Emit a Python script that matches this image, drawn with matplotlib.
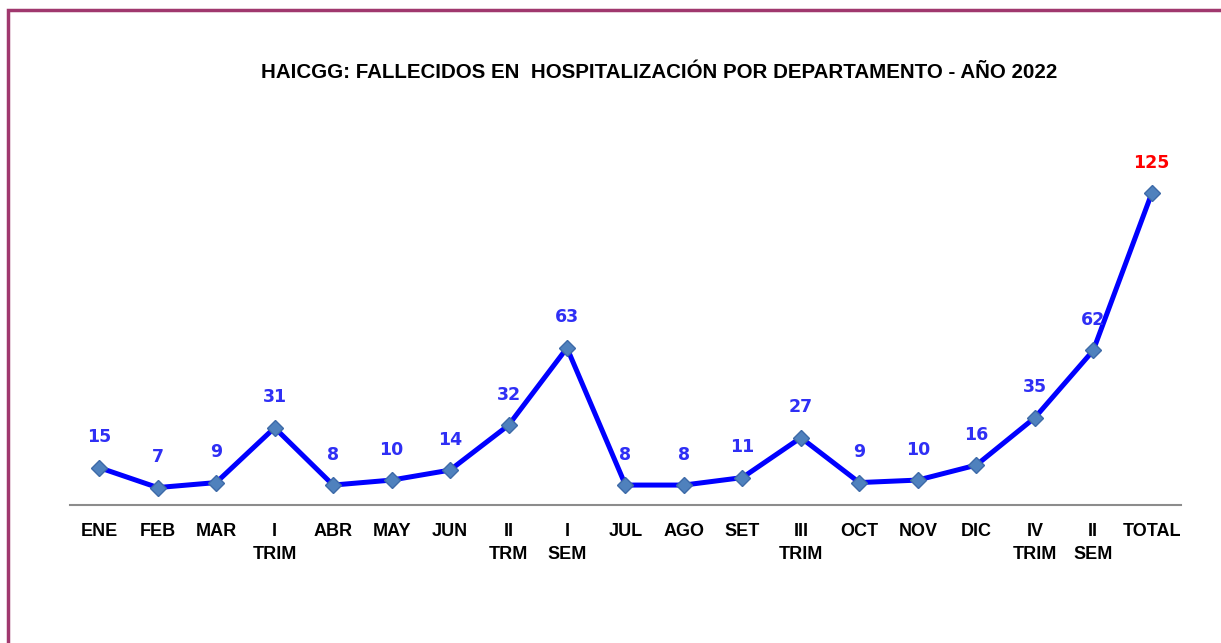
import matplotlib.pyplot as plt
from matplotlib.patches import Rectangle

# chart data
meses = ['ENE', 'FEB', 'MAR', 'I\nTRIM', 'ABR', 'MAY', 'JUN', 'II\nTRM', 'I\nSEM',
         'JUL', 'AGO', 'SET', 'III\nTRIM', 'OCT', 'NOV', 'DIC', 'IV\nTRIM', 'II\nSEM', 'TOTAL']
fallecidos = [15, 7, 9, 31, 8, 10, 14, 32, 63, 8, 8, 11, 27, 9, 10, 16, 35, 62, 125]
titulo = 'HAICGG: FALLECIDOS EN  HOSPITALIZACIÓN POR DEPARTAMENTO - AÑO 2022'

plt.rcParams['font.family'] = ['Liberation Sans', 'DejaVu Sans']

fig = plt.figure(figsize=(12.21, 6.43), dpi=100)
ax = fig.add_axes([0.0573, 0.2146, 0.9099, 0.5428])

x = list(range(len(fallecidos)))
ax.plot(x, fallecidos, color='#0000FF', linewidth=3.6, marker='D', markersize=8.5,
        markerfacecolor='#4F81BD', markeredgecolor='#3D6AA8', markeredgewidth=1, zorder=3)

for i, v in enumerate(fallecidos):
    col = '#FF0000' if i == len(fallecidos) - 1 else '#2F2FF5'
    ax.annotate(str(v), (i, v), xytext=(0, 22), textcoords='offset points',
                ha='center', va='center', fontsize=12.5, fontweight='bold', color=col,
                family=['DejaVu Sans'])

ax.set_xlim(-0.5, len(fallecidos) - 0.5)
ax.set_ylim(0, 140)
ax.set_xticks(x)
ax.set_xticklabels(meses, fontsize=13, fontweight='bold', linespacing=1.45)
ax.tick_params(axis='x', length=0, pad=13)
ax.set_yticks([])
for s in ['top', 'right', 'left']:
    ax.spines[s].set_visible(False)
ax.spines['bottom'].set_color('#8C8C8C')
ax.spines['bottom'].set_linewidth(1.5)

fig.text(0.5397, 0.888, titulo, ha='center', va='center', fontsize=14.8, fontweight='bold')

# outer border of the chart
fig.add_artist(Rectangle((8 / 1221, -0.1), 1.2, 1.1 - 10 / 643, transform=fig.transFigure,
                         fill=False, edgecolor='#A0386E', linewidth=2.5))

fig.savefig('out.png', dpi=100)
